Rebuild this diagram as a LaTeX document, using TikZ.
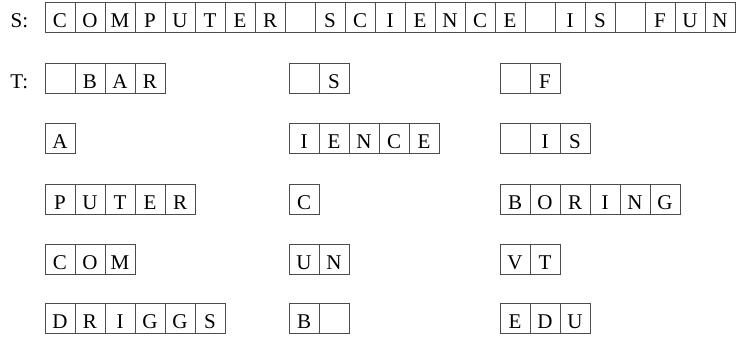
\documentclass[tikz,border=0pt]{standalone}
\usepackage{fontspec}
\setmainfont{Liberation Serif}
\usetikzlibrary{positioning}
\tikzset{
  cell/.style = {draw=black!70, line width=0.5pt, inner sep=0pt,
    minimum width=15pt, minimum height=15pt, text height=1em, text depth=0pt,
    font=\fontsize{10.5}{12}\selectfont},% one letter of a string
  lbl/.style = {inner sep=0pt, text height=1em, text depth=0pt,
    font=\fontsize{10.5}{12}\selectfont},% S: and T:
}
% a string as a row of cells: name, left x, centre y, letters
\newcommand{\strrow}[4]{%
  \foreach \ch [count=\i] in {#4}
    \node [cell] (#1-\i) at ({#2+(\i-1)*30+15},#3) {\ch};
}

\begin{document}
\begin{tikzpicture}[x=0.5pt,y=-0.5pt]
\useasboundingbox (0,0) rectangle (742,338);

\strrow{s}{45}{17}{C,O,M,P,U,T,E,R,{},S,C,I,E,N,C,E,{},I,S,{},F,U,N}
\node [lbl, left=8pt of s-1] (slbl) {S:};

% column 1
\strrow{bar}{45}{78}{{},B,A,R}
\node [lbl, left=8pt of bar-1] (tlbl) {T:};
\strrow{a}{45}{138}{A}
\strrow{puter}{45}{199}{P,U,T,E,R}
\strrow{com}{45}{259}{C,O,M}
\strrow{driggs}{45}{318}{D,R,I,G,G,S}

% column 2
\strrow{sp}{289}{78}{{},S}
\strrow{ience}{289}{138}{I,E,N,C,E}
\strrow{c}{289}{199}{C}
\strrow{un}{289}{259}{U,N}
\strrow{b}{289}{318}{B,{}}

% column 3
\strrow{f}{500}{78}{{},F}
\strrow{is}{500}{138}{{},I,S}
\strrow{boring}{500}{199}{B,O,R,I,N,G}
\strrow{vt}{500}{259}{V,T}
\strrow{edu}{500}{318}{E,D,U}
\end{tikzpicture}
\end{document}
